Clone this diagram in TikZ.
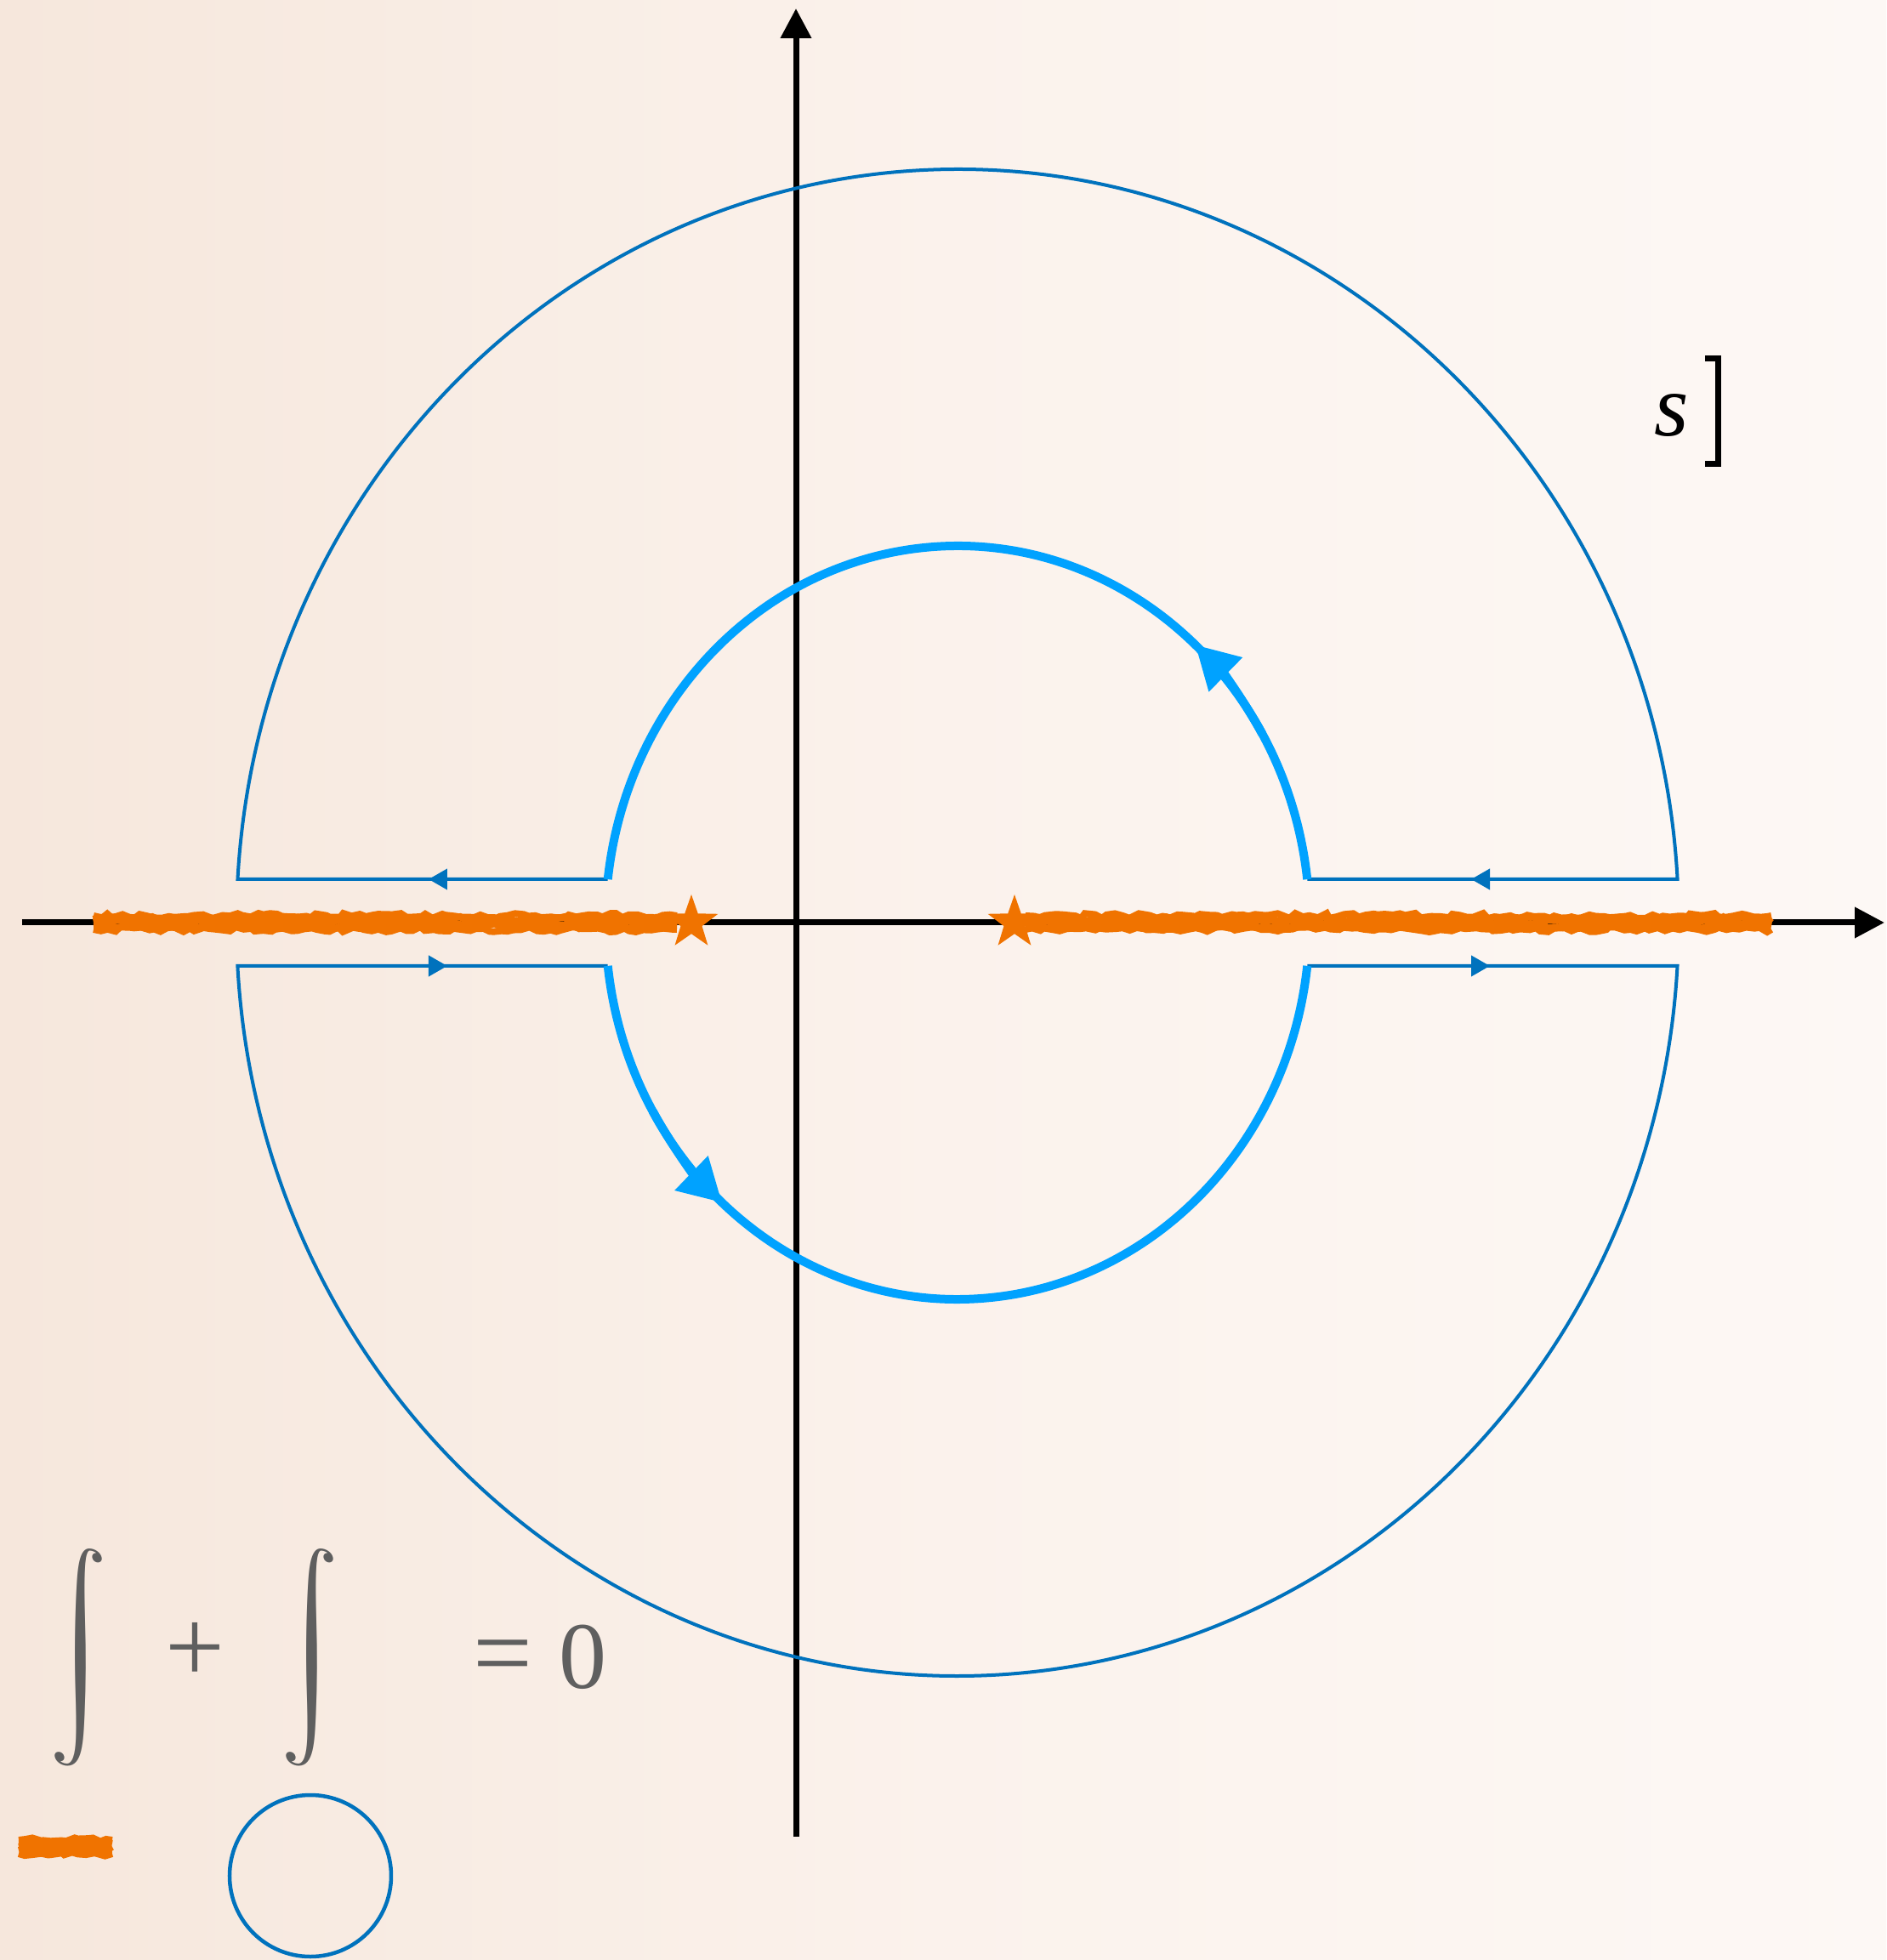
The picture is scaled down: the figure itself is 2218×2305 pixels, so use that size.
\documentclass[tikz,border=0pt]{standalone}
\usepackage{fontspec}
\usetikzlibrary{arrows.meta,shapes.geometric,decorations.pathmorphing}
\newfontfamily\timesfont{Liberation Serif}
\definecolor{outerblue}{RGB}{0,114,189}
\definecolor{innerblue}{RGB}{0,162,255}
\definecolor{cutorange}{RGB}{240,115,0}
\definecolor{formulagrey}{RGB}{95,95,95}
\definecolor{paper}{RGB}{251,242,236}
\definecolor{paperdark}{RGB}{246,231,220}
\definecolor{paperlight}{RGB}{253,248,245}
\newcommand\drawroughcut[3]{%
  \foreach \dy in {-8,-4,0,4,8}{%
    \draw[cutstroke] (#1,#3+\dy) -- (#2,#3+\dy);
  }%
}
\begin{document}
\begin{tikzpicture}[x=0.5pt,y=0.5pt,
  axisline/.style={line width=3.5pt, black},
  outerline/.style={line width=2pt, outerblue, line join=miter},
  innerline/.style={line width=5pt, innerblue},
  slitarrow/.style={outerline, -{Triangle[length=11pt,width=12pt]}},
  innerarrow/.style={innerline, -{Triangle[length=25pt,width=27pt]}},
  axisarrow/.style={axisline, -{Triangle[length=17.5pt,width=17.5pt]}},
  cutstroke/.style={cutorange, line width=4pt, decorate,
    decoration={random steps, segment length=4pt, amplitude=1.5pt}},
  polestar/.style={star, star points=5, star point ratio=2.5, fill=cutorange,
    draw=none, minimum size=33pt, inner sep=0pt},
  formulaglyph/.style={text=formulagrey, inner sep=0pt},
  intsign/.style={formulaglyph, scale=5.75, xslant=-0.2},
]
\pgfmathsetseed{42}
\fill[left color=paperdark, right color=paperlight, middle color=paper]
  (-1126,-1220) rectangle (1092,1085);
\useasboundingbox (-1126,-1220) rectangle (1092,1085);

% axes
\coordinate (xstart) at (-1100,0);
\coordinate (xend) at (1090,0);
\coordinate (ystart) at (-190,-1075);
\coordinate (yend) at (-190,1075);
\draw[axisarrow] (xstart) -- (xend);
\draw[axisarrow] (ystart) -- (yend);

% outer contour with slits
\draw[outerline] (411.3,51) -- (846.6,51)
  arc[start angle=3.3, end angle=176.7, x radius=848, y radius=886] -- (-411.3,51);
\draw[outerline] (-411.3,-51) -- (-846.6,-51)
  arc[start angle=183.3, end angle=356.7, x radius=848, y radius=886] -- (411.3,-51);

% slit arrows
\draw[slitarrow] (-580,51) -- (-622,51);
\draw[slitarrow] (646,51) -- (604,51);
\draw[slitarrow] (-642,-51) -- (-600,-51);
\draw[slitarrow] (584,-51) -- (626,-51);

% branch cuts
\drawroughcut{-1016}{-330}{0}
\drawroughcut{80}{957}{0}

% poles
\node[polestar] (poleL) at (-313,0) {};
\node[polestar] (poleR) at (67,0) {};

% inner circle
\draw[innerline] ({414*cos(6.6)},{443*sin(6.6)})
  arc[start angle=6.6, end angle=173.4, x radius=414, y radius=443];
\draw[innerline] ({414*cos(186.6)},{443*sin(186.6)})
  arc[start angle=186.6, end angle=353.4, x radius=414, y radius=443];
\draw[innerarrow] ({414*cos(30)},{443*sin(30)})
  arc[start angle=30, end angle=47.5, x radius=414, y radius=443];
\draw[innerarrow] ({414*cos(210)},{443*sin(210)})
  arc[start angle=210, end angle=228, x radius=414, y radius=443];

% s label
\node[inner sep=0pt, font=\timesfont\itshape\fontsize{52}{60}\selectfont] (slabel) at (840,596) {s};
\draw[line width=3.5pt, black, line join=miter] (879,663) -- (894,663) -- (894,539) -- (879,539);

% formula
\node[intsign] (int1) at (-1033,-864) {$\displaystyle\int$};
\node[formulaglyph, font=\timesfont\fontsize{62}{70}\selectfont] (plus) at (-897,-858) {+};
\node[intsign] (int2) at (-761,-864) {$\displaystyle\int$};
\node[formulaglyph, font=\timesfont\fontsize{62}{70}\selectfont] (eqsign) at (-535,-872) {=};
\node[formulaglyph, font=\timesfont\fontsize{56}{64}\selectfont] (zero) at (-440,-864) {0};

% legend
\drawroughcut{-1104}{-994}{-1087}
\draw[outerline, line width=2.25pt] (-761,-1121) circle[radius=95];
\end{tikzpicture}
\end{document}
